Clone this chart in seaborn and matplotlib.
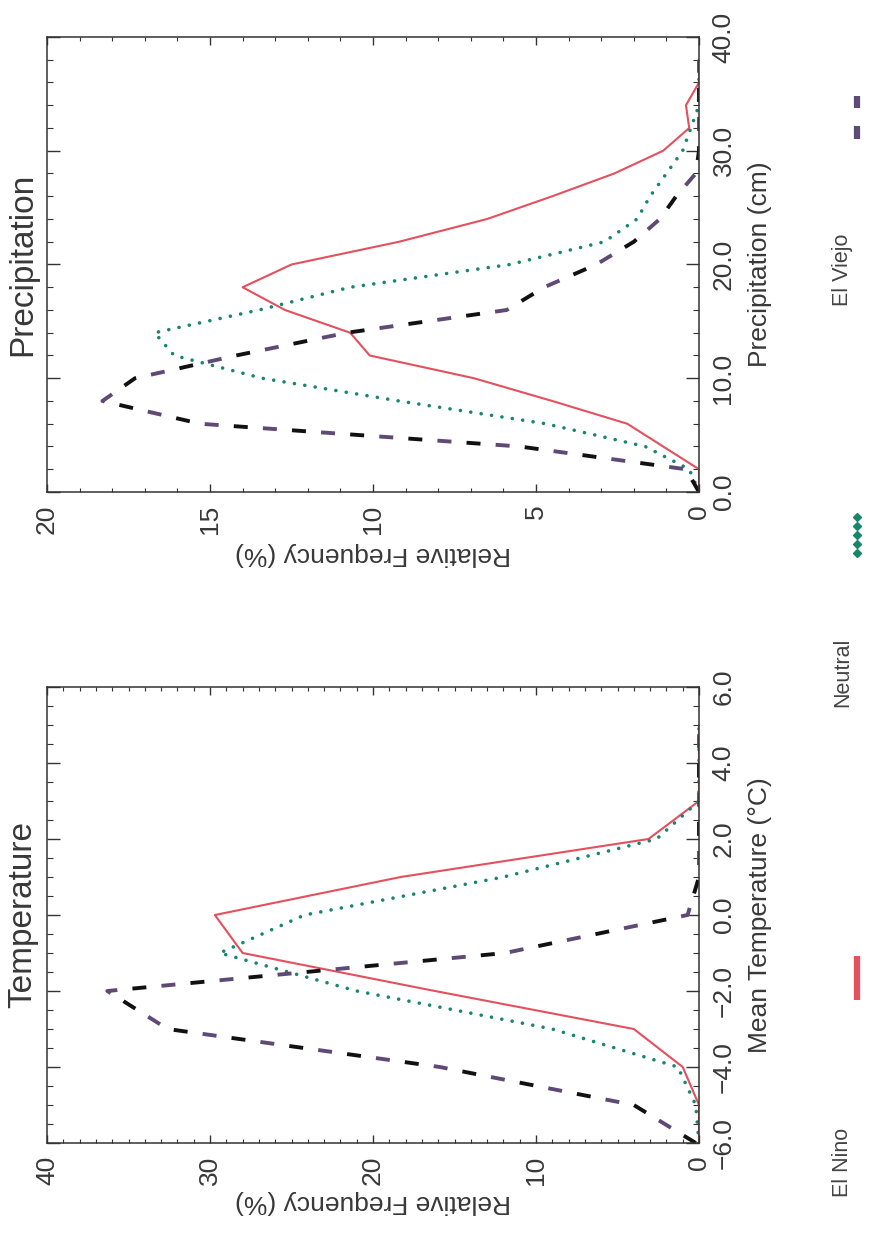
import matplotlib
matplotlib.use("Agg")
import matplotlib.pyplot as plt
from matplotlib.lines import Line2D
from matplotlib.ticker import MultipleLocator
import pandas as pd
import seaborn as sns

# ---- data: relative frequency (%) per bin ----
temp_bins = [-6, -5, -4, -3, -2, -1, 0, 1, 2, 3, 4, 5]
temp_el_nino = [0.0, 0.0, 1.0, 4.0, 16.2, 28.0, 29.7, 18.3, 3.1, 0.0, 0.0, 0.0]
temp_neutral = [0.0, 0.2, 1.3, 9.0, 21.0, 29.4, 24.2, 12.0, 2.6, 0.0, 0.0, 0.0]
temp_el_viejo = [0.2, 4.0, 15.9, 32.6, 36.3, 11.9, 0.7, 0.0, 0.0, 0.0, 0.0, 0.0]

precip_bins = [0, 2, 4, 6, 8, 10, 12, 14, 16, 18, 20, 22, 24, 26, 28, 30, 32, 34, 36, 38]
precip_el_nino = [0.0, 0.0, 1.1, 2.2, 4.5, 6.9, 10.1, 10.7, 12.7, 14.0,
                  12.5, 9.2, 6.5, 4.5, 2.6, 1.1, 0.3, 0.4, 0.0, 0.0]
precip_neutral = [0.0, 0.3, 1.65, 4.7, 9.2, 13.4, 16.1, 16.7, 13.5, 10.7,
                  5.8, 2.9, 1.9, 1.5, 1.0, 0.5, 0.25, 0.0, 0.0, 0.0]
precip_el_viejo = [0.0, 0.4, 5.5, 15.3, 18.3, 17.3, 14.2, 10.8, 5.9, 4.75,
                   3.15, 2.0, 1.2, 0.7, 0.1, 0.0, 0.0, 0.0, 0.0, 0.0]

temp_ticks = [-6, -4, -2, 0, 2, 4, 6]
temp_tick_labels = ["\u22126.0", "\u22124.0", "\u22122.0", "0.0", "2.0", "4.0", "6.0"]
temp_freq_ticks = [40, 30, 20, 10, 0]
temp_freq_labels = ["40", "30", "20", "10", "0"]

precip_ticks = [0, 10, 20, 30, 40]
precip_tick_labels = ["0.0", "10.0", "20.0", "30.0", "40.0"]
precip_freq_ticks = [20, 15, 10, 5, 0]
precip_freq_labels = ["20", "15", "10", "5", "0"]

series_names = ["El Nino", "Neutral", "El Viejo"]

# ---- styling ----
NINO_COLOR = "#e4505e"
NEUTRAL_COLOR = "#16876b"
VIEJO_DARK = "#111111"
VIEJO_PURPLE = "#5f4a75"
FRAME_COLOR = "#333333"
TEXT_COLOR = "#383838"

sns.set_theme(style="white")
plt.rcParams["font.family"] = ["Liberation Sans", "DejaVu Sans"]
plt.rcParams["axes.edgecolor"] = FRAME_COLOR
plt.rcParams["axes.linewidth"] = 1.1

W, H = 870, 1235
fig = plt.figure(figsize=(W / 100, H / 100), dpi=100)
fig.patch.set_facecolor("white")


def fig_box(x0, y0, x1, y1):
    """Pixel box (left, top, right, bottom) -> figure fraction rect."""
    return [x0 / W, 1 - y1 / H, (x1 - x0) / W, (y1 - y0) / H]


def draw_panel(ax, bins, nino, neutral, viejo, freq_max, freq_ticks, freq_labels,
               val_lim, val_ticks, val_labels, val_minor, title, val_label):
    df = pd.DataFrame({"bin": bins, "nino": nino, "neutral": neutral, "viejo": viejo})

    # El Nino: thin solid line
    sns.lineplot(data=df, x="nino", y="bin", orient="y", sort=False, estimator=None,
                 color=NINO_COLOR, linewidth=1.5, ax=ax)
    # Neutral: round dots
    sns.lineplot(data=df, x="neutral", y="bin", orient="y", sort=False, estimator=None,
                 color=NEUTRAL_COLOR, linewidth=2.6, ax=ax)
    dots = ax.lines[-1]
    dots.set_linestyle((0, (0.01, 2.9)))
    dots.set_dash_capstyle("round")
    # El Viejo: dashes alternating black and purple
    sns.lineplot(data=df, x="viejo", y="bin", orient="y", sort=False, estimator=None,
                 color=VIEJO_DARK, linewidth=2.8, ax=ax)
    ax.lines[-1].set_linestyle((0, (3.6, 11.4)))
    ax.lines[-1].set_dash_capstyle("butt")
    sns.lineplot(data=df, x="viejo", y="bin", orient="y", sort=False, estimator=None,
                 color=VIEJO_PURPLE, linewidth=2.8, ax=ax)
    ax.lines[-1].set_linestyle((7.5, (3.6, 11.4)))
    ax.lines[-1].set_dash_capstyle("butt")

    ax.set_xlim(freq_max, 0)
    ax.set_ylim(*val_lim)

    ax.set_xticks(freq_ticks, freq_labels, rotation=90, ha="center", va="top")
    ax.xaxis.set_minor_locator(MultipleLocator(1))
    ax.set_yticks(val_ticks, val_labels, rotation=90, ha="left", va="center")
    ax.yaxis.set_minor_locator(MultipleLocator(val_minor))

    ax.tick_params(axis="x", which="major", direction="in", length=6, width=1,
                   top=True, bottom=True, labelbottom=True, labeltop=False,
                   pad=9, labelsize=19, colors=FRAME_COLOR, labelcolor=TEXT_COLOR)
    ax.tick_params(axis="x", which="minor", direction="in", length=3, width=0.8,
                   top=True, bottom=True, colors=FRAME_COLOR)
    ax.tick_params(axis="y", which="major", direction="in", length=9.5, width=1,
                   left=True, right=True, labelleft=False, labelright=True,
                   pad=9, labelsize=19, colors=FRAME_COLOR, labelcolor=TEXT_COLOR)
    ax.tick_params(axis="y", which="minor", direction="in", length=4.5, width=0.8,
                   left=True, right=True, colors=FRAME_COLOR)

    ax.set_xlabel("Relative Frequency (%)", rotation=180, fontsize=19, color=TEXT_COLOR)
    ax.xaxis.label.set_va("center")
    ax.xaxis.label.set_ha("center")

    ax.yaxis.set_label_position("right")
    ax.set_ylabel(val_label, rotation=90, fontsize=19, color=TEXT_COLOR)
    ax.yaxis.label.set_va("center")
    ax.yaxis.label.set_ha("center")
    ax.yaxis.set_label_coords(1.094, 0.5)

    ax.text(-0.037, 0.5, title, rotation=90, ha="center", va="center",
            fontsize=24, color=TEXT_COLOR, transform=ax.transAxes)
    for sp in ax.spines.values():
        sp.set_visible(True)


ax_temp = fig.add_axes(fig_box(47, 687, 699, 1143))
draw_panel(ax_temp, temp_bins, temp_el_nino, temp_neutral, temp_el_viejo,
           40, temp_freq_ticks, temp_freq_labels, (-6, 6), temp_ticks, temp_tick_labels,
           0.5, "Temperature", "Mean Temperature (\u00b0C)")
ax_temp.xaxis.set_label_coords(0.5, -0.13)

ax_prec = fig.add_axes(fig_box(47, 37, 699, 492))
draw_panel(ax_prec, precip_bins, precip_el_nino, precip_neutral, precip_el_viejo,
           20, precip_freq_ticks, precip_freq_labels, (0, 40), precip_ticks,
           precip_tick_labels, 2, "Precipitation", "Precipitation (cm)")
ax_prec.xaxis.set_label_coords(0.5, -0.136)


# ---- legend along the right edge ----
def fx(px):
    return px / W


def fy(py):
    return 1 - py / H


legend_text = [(series_names[0], 1162), (series_names[1], 672), (series_names[2], 270)]
for name, yc in legend_text:
    fig.text(fx(843), fy(yc), name, rotation=90, ha="center", va="center",
             fontsize=15.5, color="#444444")

fig.add_artist(Line2D([fx(857), fx(857)], [fy(1000), fy(956)], color=NINO_COLOR,
                      linewidth=4.5, solid_capstyle="butt", transform=fig.transFigure))
fig.add_artist(Line2D([fx(857)] * 5, [fy(553), fy(544), fy(535), fy(526), fy(517)],
                      color=NEUTRAL_COLOR, linestyle="none", marker="D", markersize=3.6,
                      transform=fig.transFigure))
fig.add_artist(Line2D([fx(857), fx(857)], [fy(139), fy(126)], color=VIEJO_PURPLE,
                      linewidth=4.5, solid_capstyle="butt", transform=fig.transFigure))
fig.add_artist(Line2D([fx(857), fx(857)], [fy(108), fy(96)], color=VIEJO_PURPLE,
                      linewidth=4.5, solid_capstyle="butt", transform=fig.transFigure))

fig.savefig("out.png", dpi=100, facecolor="white")
